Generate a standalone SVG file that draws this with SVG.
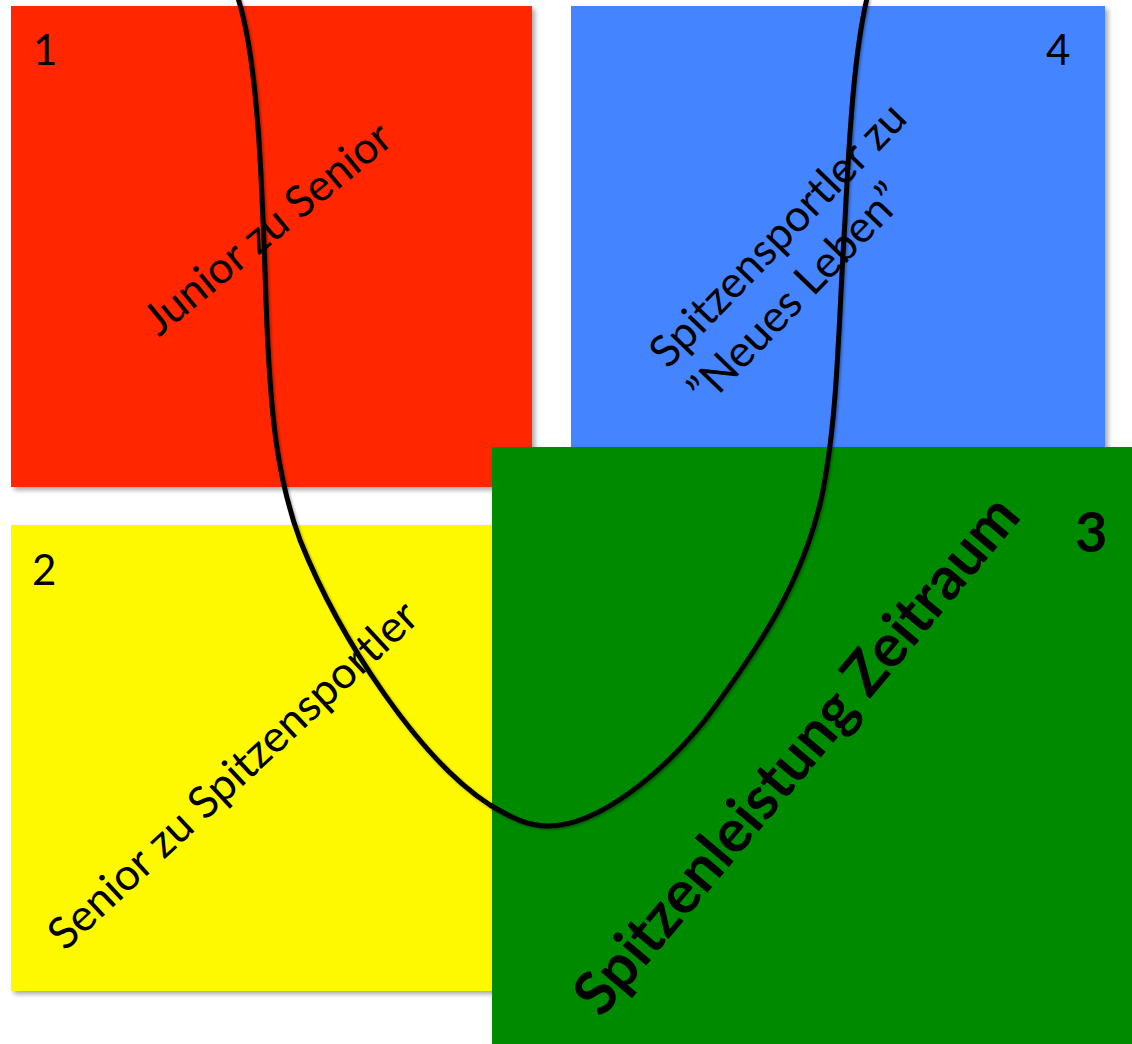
<svg xmlns="http://www.w3.org/2000/svg" width="1132" height="1044" viewBox="0 0 1132 1044">
<defs>
<filter id="sh" x="-5%" y="-5%" width="115%" height="115%">
<feDropShadow dx="3" dy="3" stdDeviation="2.5" flood-color="#000" flood-opacity="0.35"/>
</filter>
<filter id="lsh" x="-5%" y="-5%" width="115%" height="115%">
<feDropShadow dx="1.5" dy="1.5" stdDeviation="1" flood-color="#000" flood-opacity="0.35"/>
</filter>
</defs>
<style>
.lbl{font-family:Lato,"Liberation Sans",sans-serif;font-size:44px;fill:#000}
.num{font-family:Lato,"Liberation Sans",sans-serif;font-size:42px;fill:#000}
.big{font-family:Lato,"Liberation Sans",sans-serif;font-size:60px;font-weight:bold;fill:#000}
.n3{font-family:Lato,"Liberation Sans",sans-serif;font-size:56px;font-weight:bold;fill:#000}
</style>
<rect width="1132" height="1044" fill="#fff"/>
<g id="node1">
<rect x="11" y="6" width="521" height="481" fill="#FF2600" filter="url(#sh)"/>
<text class="num" x="33" y="65">1</text>
<text class="lbl" text-anchor="middle" transform="translate(277,240) rotate(-39.5)" textLength="306" lengthAdjust="spacingAndGlyphs">Junior zu Senior</text>
</g>
<g id="node4">
<rect x="571" y="6" width="534" height="460" fill="#4584FF" filter="url(#sh)"/>
<text class="num" x="1046" y="65">4</text>
<g transform="translate(668,370) rotate(-46)">
<text class="lbl" x="0" y="0" textLength="347" lengthAdjust="spacingAndGlyphs">Spitzensportler zu</text>
<text class="lbl" x="0" y="54" textLength="287" lengthAdjust="spacingAndGlyphs">”Neues Leben”</text>
</g>
</g>
<g id="node2">
<rect x="11" y="525" width="500" height="466" fill="#FFF900" filter="url(#sh)"/>
<text class="num" x="32" y="585">2</text>
<text class="lbl" text-anchor="middle" transform="translate(243,786) rotate(-43)" textLength="487" lengthAdjust="spacingAndGlyphs">Senior zu Spitzensportler</text>
</g>
<g id="node3">
<rect x="492" y="447" width="650" height="607" fill="#008A00" filter="url(#sh)"/>
<text class="n3" x="1075" y="552">3</text>
<text class="big" text-anchor="middle" transform="translate(812,768) rotate(-50)" textLength="655" lengthAdjust="spacingAndGlyphs">Spitzenleistung Zeitraum</text>
</g>
<g id="connectors">
<path d="M 238,-2 C 258,60 262,180 266,300 C 270,420 278,480 300,540 C 340,640 420,760 490,805 C 515,820 530,826 548,826 C 600,826 665,770 705,720 C 765,640 802,580 821,500 C 838,420 838,330 845,220 C 850,120 855,50 867,-2" fill="none" stroke="#000" stroke-width="5" filter="url(#lsh)"/>
</g>
</svg>
